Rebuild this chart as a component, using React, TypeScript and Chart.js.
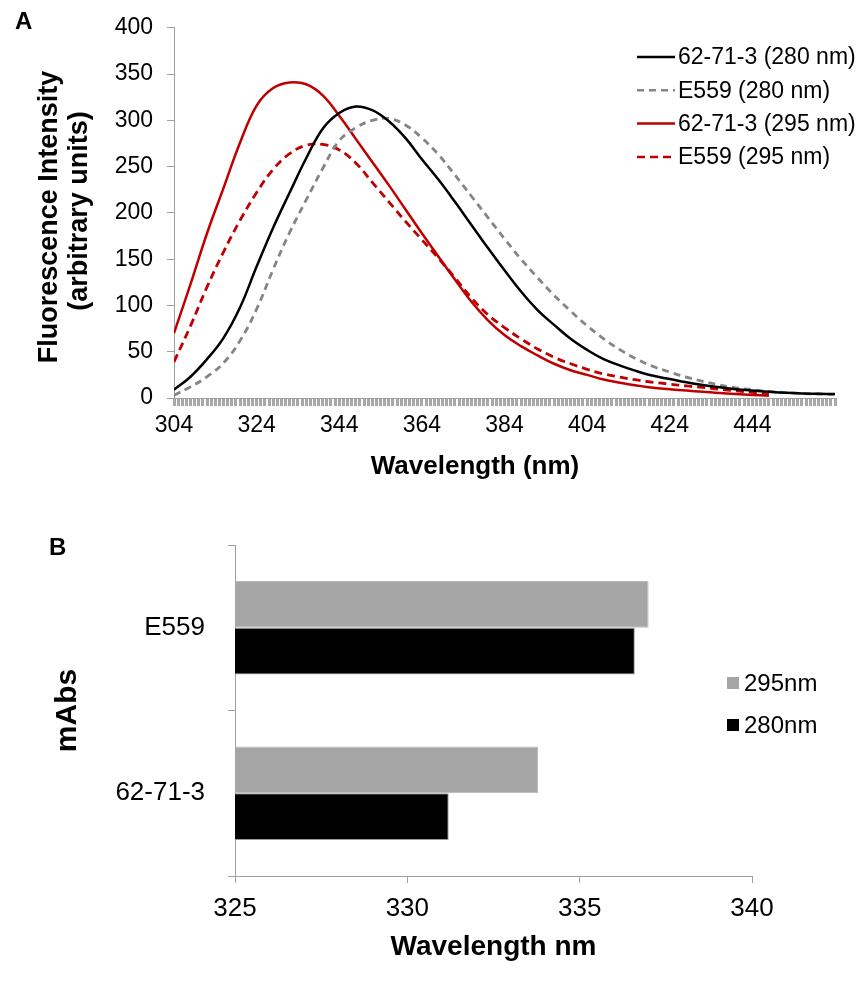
import React, { useEffect, useRef } from 'react';
import { Chart, registerables } from 'chart.js';

Chart.register(...registerables);

const FONT = "'Liberation Sans', Arial, sans-serif";

// ---------- Panel A data ----------
const wavelengths = [
  304, 308, 312, 316, 320, 324, 328, 332, 336, 340, 344, 348, 352, 356, 360, 364, 368, 372, 376, 380, 384,
  388, 392, 396, 400, 404, 408, 412, 416, 420, 424, 428, 432, 436, 440, 444, 448, 452, 456, 460, 464,
];
const mab6271_280 = [
  9, 23, 42, 65, 98, 142, 184, 222, 259, 291, 308, 315, 311, 299, 281, 258, 236, 212, 187, 162, 138,
  115, 95, 79, 64, 52, 42, 35, 29, 24, 20.5, 17, 14, 11.5, 9.5, 8, 6.7, 5.6, 4.9, 4.6, 4.2,
];
const e559_280 = [
  3, 12, 23, 38, 62, 96, 139, 179, 214, 248, 278, 292, 300, 302, 295, 281, 263, 241, 218, 195, 172,
  150, 130, 111, 94, 78, 64, 52, 42, 34, 28, 22.5, 18, 14, 11, 9, 7.1, 5.8, 4.8, 4.3, 3.8,
];
const mab6271_295 = [
  70, 123, 178, 227, 276, 316, 335, 341, 339, 327, 305, 280, 255, 230, 204, 178, 153, 128, 104, 84, 68,
  56, 46, 37, 30, 25, 20, 16.5, 13.5, 11, 9.5, 8, 6.7, 5.3, 4.2, 3.3, 2.4,
];
const e559_295 = [
  39, 78, 120, 158, 192, 222, 247, 264, 273, 274, 268, 254, 233, 212, 191, 171, 151, 130, 108, 90, 76,
  64, 53, 44, 37, 31, 26, 22.5, 19.5, 17, 15, 13, 11.5, 9.5, 7.8, 6, 4.2,
];
const lineLabels = ['62-71-3 (280 nm)', 'E559 (280 nm)', '62-71-3 (295 nm)', 'E559 (295 nm)'];
const xTickLabels = [304, 324, 344, 364, 384, 404, 424, 444];
const yTickValues = [0, 50, 100, 150, 200, 250, 300, 350, 400];
const xTitleA = 'Wavelength (nm)';
const yTitleA = ['Fluorescence Intensity', '(arbitrary units)'];

// ---------- Panel B data ----------
const barCategories = ['E559', '62-71-3'];
const peak295 = [337.0, 333.8];
const peak280 = [336.6, 331.2];
const barLabels = ['295nm', '280nm'];
const barTicks = [325, 330, 335, 340];

const AXIS_GRAY = '#a0a0a0';

function pts(vals: number[]) {
  return vals.map((v, i) => ({ x: wavelengths[i], y: v }));
}

const legendAPlugin = {
  id: 'legendA',
  afterDraw(chart: any) {
    const ctx = chart.ctx;
    ctx.save();
    const x0 = 637, x1 = 675, tx = 678, y0 = 57, gap = 33.3;
    chart.data.datasets.forEach((ds: any, i: number) => {
      const y = y0 + i * gap;
      ctx.beginPath();
      ctx.strokeStyle = ds.borderColor;
      ctx.lineWidth = 2.5;
      ctx.setLineDash(ds.borderDash || []);
      ctx.moveTo(x0, y);
      ctx.lineTo(x1, y);
      ctx.stroke();
      ctx.setLineDash([]);
      ctx.fillStyle = '#000';
      ctx.font = `23px ${FONT}`;
      ctx.textBaseline = 'middle';
      ctx.textAlign = 'left';
      ctx.fillText(ds.label, tx, y + 1);
    });
    // axis titles
    ctx.fillStyle = '#000';
    ctx.font = `bold 26px ${FONT}`;
    ctx.textAlign = 'center';
    ctx.textBaseline = 'middle';
    ctx.fillText(xTitleA, 475, 467);
    ctx.font = `bold 27px ${FONT}`;
    const ys = [217, 211];
    const xs = [50, 80];
    yTitleA.forEach((t, i) => {
      ctx.save();
      ctx.translate(xs[i], ys[i]);
      ctx.rotate(-Math.PI / 2);
      ctx.fillText(t, 0, 0);
      ctx.restore();
    });
    ctx.restore();
  },
};

const legendBPlugin = {
  id: 'legendB',
  afterDraw(chart: any) {
    const ctx = chart.ctx;
    ctx.save();
    const sx = 727, size = 12, tx = 744, y0 = 193, gap = 42;
    chart.data.datasets.forEach((ds: any, i: number) => {
      const y = y0 + i * gap;
      ctx.fillStyle = ds.backgroundColor;
      ctx.fillRect(sx, y - size / 2, size, size);
      ctx.fillStyle = '#000';
      ctx.font = `24px ${FONT}`;
      ctx.textBaseline = 'middle';
      ctx.textAlign = 'left';
      ctx.fillText(ds.label, tx, y + 1);
    });
    ctx.restore();
  },
};

function LineChartA() {
  const ref = useRef<HTMLCanvasElement>(null);
  useEffect(() => {
    if (!ref.current) return;
    const chart = new Chart(ref.current, {
      type: 'line',
      data: {
        datasets: [
          { label: lineLabels[0], data: pts(mab6271_280), borderColor: '#000000', borderWidth: 2.5 },
          { label: lineLabels[1], data: pts(e559_280), borderColor: '#858585', borderWidth: 2.8, borderDash: [7, 5] },
          { label: lineLabels[2], data: pts(mab6271_295), borderColor: '#c00000', borderWidth: 2.5 },
          { label: lineLabels[3], data: pts(e559_295), borderColor: '#c00000', borderWidth: 2.8, borderDash: [8, 5] },
        ].map((d) => ({ ...d, pointRadius: 0, fill: false, tension: 0.4 })),
      },
      options: {
        responsive: false,
        animation: false,
        events: [],
        layout: { padding: { top: 21, right: 29, left: 0, bottom: 0 } },
        plugins: { legend: { display: false }, tooltip: { enabled: false } },
        scales: {
          x: {
            type: 'linear',
            min: 304,
            max: 464,
            afterFit: (s: any) => { s.height = 92; },
            ticks: {
              stepSize: 1,
              autoSkip: false,
              maxRotation: 0,
              minRotation: 0,
              padding: 6,
              color: '#000',
              font: { family: FONT, size: 23 },
              callback: (v: any) => (xTickLabels.includes(Number(v)) ? String(v) : ''),
            },
            grid: { display: true, drawOnChartArea: false, drawTicks: true, tickLength: 8, color: '#a8a8a8', lineWidth: 3 },
            border: { display: true, color: AXIS_GRAY, width: 1 },
            title: { display: false },
          },
          y: {
            type: 'linear',
            min: 0,
            max: 400,
            afterFit: (s: any) => { s.width = 174; },
            afterBuildTicks: (s: any) => { s.ticks = yTickValues.map((v) => ({ value: v })); },
            ticks: { padding: 14, color: '#000', font: { family: FONT, size: 23 } },
            grid: { display: true, drawOnChartArea: false, drawTicks: true, tickLength: 7, color: AXIS_GRAY },
            border: { display: true, color: AXIS_GRAY, width: 1 },
            title: { display: false },
          },
        },
      } as any,
      plugins: [legendAPlugin],
    });
    return () => chart.destroy();
  }, []);
  return <canvas ref={ref} width={864} height={490} style={{ position: 'absolute', left: 0, top: 0 }} />;
}

function BarChartB() {
  const ref = useRef<HTMLCanvasElement>(null);
  useEffect(() => {
    if (!ref.current) return;
    const chart = new Chart(ref.current, {
      type: 'bar',
      data: {
        labels: barCategories,
        datasets: [
          { label: barLabels[0], data: peak295, backgroundColor: '#a6a6a6', borderColor: '#b8b8b8', borderWidth: 1 },
          { label: barLabels[1], data: peak280, backgroundColor: '#000000', borderColor: '#9a9a9a', borderWidth: 1 },
        ],
      },
      options: {
        indexAxis: 'y',
        responsive: false,
        animation: false,
        events: [],
        categoryPercentage: 0.565,
        barPercentage: 1,
        layout: { padding: { top: 55, right: 112, left: 0, bottom: 0 } },
        plugins: { legend: { display: false }, tooltip: { enabled: false } },
        scales: {
          x: {
            type: 'linear',
            min: 325,
            max: 340,
            afterFit: (s: any) => { s.height = 110; },
            afterBuildTicks: (s: any) => { s.ticks = barTicks.map((v) => ({ value: v })); },
            ticks: { padding: 10, color: '#000', font: { family: FONT, size: 26 } },
            grid: { display: true, drawOnChartArea: false, drawTicks: true, tickLength: 7, color: AXIS_GRAY },
            border: { display: true, color: AXIS_GRAY, width: 1 },
            title: {
              display: true,
              text: 'Wavelength nm',
              color: '#000',
              font: { family: FONT, size: 28, weight: 'bold' },
              padding: { top: 0, bottom: 22 },
            },
          },
          y: {
            type: 'category',
            afterFit: (s: any) => { s.width = 235; },
            ticks: { padding: 23, color: '#000', font: { family: FONT, size: 26 } },
            grid: { display: true, offset: true, drawOnChartArea: false, drawTicks: true, tickLength: 7, color: AXIS_GRAY },
            border: { display: true, color: AXIS_GRAY, width: 1 },
            title: {
              display: true,
              text: 'mAbs',
              color: '#000',
              font: { family: FONT, size: 30, weight: 'bold' },
              padding: { top: 50, bottom: 0 },
            },
          },
        },
      } as any,
      plugins: [legendBPlugin],
    });
    return () => chart.destroy();
  }, []);
  return <canvas ref={ref} width={864} height={496} style={{ position: 'absolute', left: 0, top: 490 }} />;
}

export default function App() {
  useEffect(() => {
    document.body.style.margin = '0';
  }, []);
  const letter: React.CSSProperties = {
    position: 'absolute',
    fontFamily: FONT,
    fontWeight: 'bold',
    fontSize: 24,
    lineHeight: '24px',
    color: '#000',
  };
  return (
    <div style={{ position: 'relative', width: 864, height: 986, background: '#fff', overflow: 'hidden' }}>
      <LineChartA />
      <BarChartB />
      <div style={{ ...letter, left: 15, top: 9 }}>A</div>
      <div style={{ ...letter, left: 49, top: 535 }}>B</div>
    </div>
  );
}
